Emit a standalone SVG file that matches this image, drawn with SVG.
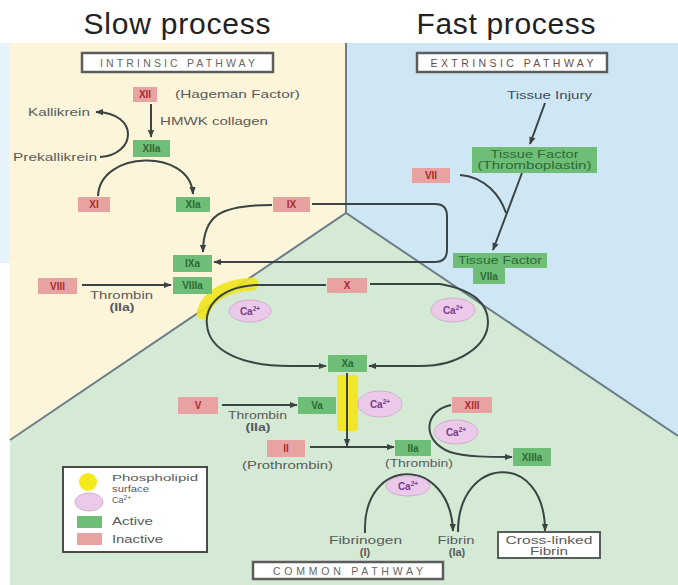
<svg xmlns="http://www.w3.org/2000/svg" width="678" height="585" viewBox="0 0 678 585">
<defs>
<marker id="ah" viewBox="0 0 10 10" refX="9" refY="5" markerWidth="8" markerHeight="8" markerUnits="userSpaceOnUse" orient="auto">
<path d="M0,1 L10,5 L0,9 z" fill="#3a4444"/>
</marker>
<style>
text{font-family:"Liberation Sans",Arial,sans-serif}
.title{font-size:30px;fill:#222;text-anchor:middle}
.pw{fill:#fff;stroke:#5c5c5c;stroke-width:2.5}
.pwt{font-size:10.5px;fill:#666;text-anchor:middle}
.red{fill:#e8a2a2}
.grn{fill:#6fbe77}
.rt{font-size:10px;font-weight:bold;fill:#a82c2c;text-anchor:middle}
.gt{font-size:10px;font-weight:bold;fill:#2c6a33;text-anchor:middle}
.lb{font-size:11px;fill:#5a5a5a}
.lg{font-size:9px;fill:#5a5a5a}
.mid{text-anchor:middle}
.bd{font-weight:bold}
.ca{fill:#ebc9e9;stroke:#d3acd3;stroke-width:1}
.cat{font-size:10px;font-weight:bold;fill:#7c3c8c;text-anchor:middle}
.sup{font-size:6.5px}
.c{fill:none;stroke:#3a4444;stroke-width:2}
.div{fill:none;stroke:#6c7c88;stroke-width:2}
</style>
</defs>

<g id="background">
<rect x="0" y="0" width="678" height="585" fill="#ffffff"/>
<rect x="0" y="43" width="10" height="220" fill="#e6f3fb"/>
<polygon points="10,43 346,43 346,213 10,440" fill="#fcf5da"/>
<polygon points="346,43 678,43 678,436 346,213" fill="#cfe7f5"/>
<polygon points="10,440 346,213 678,436 678,585 10,585" fill="#d4ead4"/>
<path class="div" d="M346,43 V213"/>
<path class="div" d="M10,440 L346,213 L678,436"/>
<path d="M203 313 C208 296 225 286 252 284" fill="none" stroke="#f1e41c" stroke-width="13" stroke-linecap="round" opacity="0.9"/>
<rect x="337" y="375" width="21" height="56" rx="4" fill="#f2e62a"/>
</g>

<g id="titles">
<text class="title" x="177" y="34" textLength="187">Slow process</text>
<text class="title" x="506" y="34" textLength="179">Fast process</text>
</g>

<g id="connectors">
<path class="c" d="M151 104 V137" marker-end="url(#ah)"/>
<path class="c" d="M100 157 C136 155 140 113 96 112" marker-end="url(#ah)"/>
<path class="c" d="M98 196 C100 150 190 148 193 194" marker-end="url(#ah)"/>
<path class="c" d="M272 205 C220 205 203 215 203 252" marker-end="url(#ah)"/>
<path class="c" d="M312 204 H435 Q447 204 447 216 V250 Q447 262 435 262 H214" marker-end="url(#ah)"/>
<path class="c" d="M545 103 L530 144" marker-end="url(#ah)"/>
<path class="c" d="M522 173 L493 250" marker-end="url(#ah)"/>
<path class="c" d="M460 175 C485 177 500 195 506 213"/>
<path class="c" d="M82 285 H171" marker-end="url(#ah)"/>
<path class="c" d="M326 285 H255 C215 288 205 310 207 325 C209 350 240 366 290 366 H326" marker-end="url(#ah)"/>
<path class="c" d="M370 284 H440 C475 290 488 305 488 322 C488 345 460 366 420 366 H369" marker-end="url(#ah)"/>
<path class="c" d="M347 373 V446" marker-end="url(#ah)"/>
<path class="c" d="M222 405 H297" marker-end="url(#ah)"/>
<path class="c" d="M310 447 H394" marker-end="url(#ah)"/>
<path class="c" d="M451 405 C425 410 420 440 450 452 C465 457 490 457 512 457" marker-end="url(#ah)"/>
<path class="c" d="M365 533 C362 455 450 455 453 531" marker-end="url(#ah)"/>
<path class="c" d="M458 532 C458 455 545 450 545 531" marker-end="url(#ah)"/>
</g>

<g id="intrinsic-pathway">
<rect class="pw" x="82" y="53" width="191" height="19"/>
<text class="pwt" x="177.5" y="66.5" textLength="155">INTRINSIC PATHWAY</text>
</g>
<g id="extrinsic-pathway">
<rect class="pw" x="417" y="53" width="190" height="19"/>
<text class="pwt" x="512" y="66.5" textLength="163" style="fill:#6a4c4c">EXTRINSIC PATHWAY</text>
</g>
<g id="common-pathway">
<rect class="pw" x="253" y="562" width="190" height="17"/>
<text class="pwt" x="348" y="574.5" textLength="150">COMMON PATHWAY</text>
</g>

<g id="n-XII"><rect class="red" x="133" y="87" width="24" height="15"/><text class="rt" x="145" y="98">XII</text></g>
<g id="lbl-hageman"><text class="lb" x="175" y="98" textLength="125" lengthAdjust="spacingAndGlyphs">(Hageman Factor)</text></g>
<g id="lbl-hmwk"><text class="lb" x="160" y="125" textLength="108" lengthAdjust="spacingAndGlyphs">HMWK collagen</text></g>
<g id="lbl-kallikrein"><text class="lb" x="28" y="116" textLength="62" lengthAdjust="spacingAndGlyphs">Kallikrein</text></g>
<g id="lbl-prekallikrein"><text class="lb" x="13" y="161" textLength="84" lengthAdjust="spacingAndGlyphs">Prekallikrein</text></g>
<g id="n-XIIa"><rect class="grn" x="133" y="140" width="37" height="17"/><text class="gt" x="151.5" y="152">XIIa</text></g>
<g id="n-XI"><rect class="red" x="78" y="197" width="32" height="15"/><text class="rt" x="94" y="208">XI</text></g>
<g id="n-XIa"><rect class="grn" x="176" y="197" width="34" height="15"/><text class="gt" x="193" y="208">XIa</text></g>
<g id="n-IX"><rect class="red" x="273" y="197" width="37" height="15"/><text class="rt" x="291.5" y="208">IX</text></g>
<g id="n-IXa"><rect class="grn" x="173" y="255" width="39" height="17"/><text class="gt" x="192.5" y="267">IXa</text></g>
<g id="n-VIIIa"><rect class="grn" x="173" y="277" width="39" height="17"/><text class="gt" x="192.5" y="289">VIIIa</text></g>
<g id="n-VIII"><rect class="red" x="38" y="278" width="39" height="16"/><text class="rt" x="57.5" y="290">VIII</text></g>
<g id="lbl-thrombin1"><text class="lb" x="90" y="299" textLength="63" lengthAdjust="spacingAndGlyphs">Thrombin</text><text class="lb mid bd" x="122" y="311" textLength="25" lengthAdjust="spacingAndGlyphs">(IIa)</text></g>

<g id="n-X"><rect class="red" x="327" y="278" width="40" height="15"/><text class="rt" x="347" y="289">X</text></g>
<g id="n-Xa"><rect class="grn" x="328" y="355" width="39" height="17"/><text class="gt" x="347.5" y="367">Xa</text></g>
<g id="n-V"><rect class="red" x="178" y="397" width="40" height="17"/><text class="rt" x="198" y="409">V</text></g>
<g id="n-Va"><rect class="grn" x="298" y="397" width="38" height="17"/><text class="gt" x="317" y="409">Va</text></g>
<g id="lbl-thrombin2"><text class="lb" x="228" y="419" textLength="59" lengthAdjust="spacingAndGlyphs">Thrombin</text><text class="lb mid bd" x="258" y="431" textLength="25" lengthAdjust="spacingAndGlyphs">(IIa)</text></g>
<g id="n-II"><rect class="red" x="267" y="440" width="38" height="17"/><text class="rt" x="286" y="452">II</text></g>
<g id="lbl-prothrombin"><text class="lb" x="242" y="469" textLength="91" lengthAdjust="spacingAndGlyphs">(Prothrombin)</text></g>
<g id="n-IIa"><rect class="grn" x="395" y="440" width="36" height="16"/><text class="gt" x="413" y="452">IIa</text></g>
<g id="lbl-thrombin3"><text class="lb" x="385" y="467" textLength="68" lengthAdjust="spacingAndGlyphs">(Thrombin)</text></g>
<g id="n-XIII"><rect class="red" x="452" y="397" width="40" height="16"/><text class="rt" x="472" y="409">XIII</text></g>
<g id="n-XIIIa"><rect class="grn" x="513" y="448" width="38" height="18"/><text class="gt" x="532" y="461">XIIIa</text></g>

<g id="ca1"><ellipse class="ca" cx="250" cy="311" rx="21" ry="11"/><text class="cat" x="250" y="315">Ca<tspan class="sup" dy="-4">2+</tspan></text></g>
<g id="ca2"><ellipse class="ca" cx="453" cy="310" rx="22" ry="12"/><text class="cat" x="453" y="314">Ca<tspan class="sup" dy="-4">2+</tspan></text></g>
<g id="ca3"><ellipse class="ca" cx="380" cy="404" rx="22" ry="13"/><text class="cat" x="380" y="408">Ca<tspan class="sup" dy="-4">2+</tspan></text></g>
<g id="ca4"><ellipse class="ca" cx="456" cy="432" rx="22" ry="12"/><text class="cat" x="456" y="436">Ca<tspan class="sup" dy="-4">2+</tspan></text></g>
<g id="ca5"><ellipse class="ca" cx="408" cy="486" rx="22" ry="10"/><text class="cat" x="408" y="490">Ca<tspan class="sup" dy="-4">2+</tspan></text></g>

<g id="lbl-fibrinogen"><text class="lb" x="329" y="544" textLength="73" lengthAdjust="spacingAndGlyphs">Fibrinogen</text><text class="lb mid bd" x="365" y="556">(I)</text></g>
<g id="lbl-fibrin"><text class="lb mid" x="456" y="544" textLength="37" lengthAdjust="spacingAndGlyphs">Fibrin</text><text class="lb mid bd" x="457" y="556">(Ia)</text></g>
<g id="n-crosslinked"><rect x="498" y="532" width="102" height="26" fill="#fff" stroke="#5c5c5c" stroke-width="2"/>
<text class="lb mid" x="549" y="544" textLength="87" lengthAdjust="spacingAndGlyphs">Cross-linked</text>
<text class="lb mid" x="549" y="555" textLength="38" lengthAdjust="spacingAndGlyphs">Fibrin</text></g>

<g id="lbl-tissue-injury"><text class="lb" x="507" y="99" textLength="85" lengthAdjust="spacingAndGlyphs" style="fill:#3e4c66">Tissue Injury</text></g>
<g id="n-TF"><rect class="grn" x="472" y="147" width="125" height="26"/>
<text class="gt" x="534.5" y="158" textLength="88" lengthAdjust="spacingAndGlyphs" style="font-weight:normal">Tissue Factor</text>
<text class="gt" x="534.5" y="169" textLength="114" lengthAdjust="spacingAndGlyphs" style="font-weight:normal">(Thromboplastin)</text></g>
<g id="n-VII"><rect class="red" x="412" y="168" width="38" height="15"/><text class="rt" x="431" y="179">VII</text></g>
<g id="n-TF2"><rect class="grn" x="453" y="253" width="94" height="15"/><text class="gt" x="500" y="264" textLength="84" lengthAdjust="spacingAndGlyphs" style="font-weight:normal">Tissue Factor</text></g>
<g id="n-VIIa"><rect class="grn" x="473" y="268" width="32" height="16"/><text class="gt" x="489" y="280">VIIa</text></g>

<g id="legend">
<rect x="63" y="467" width="144" height="85" fill="#fff" stroke="#4a4a4a" stroke-width="2"/>
<circle cx="88" cy="482" r="9" fill="#f4ea1c"/>
<ellipse class="ca" cx="89" cy="502" rx="14" ry="9"/>
<rect class="grn" x="77" y="516" width="25" height="12"/>
<rect class="red" x="77" y="533" width="25" height="12"/>
<text class="lg" x="112" y="481" textLength="86" lengthAdjust="spacingAndGlyphs">Phospholipid</text>
<text class="lg" x="112" y="491.5" textLength="37" lengthAdjust="spacingAndGlyphs">surface</text>
<text class="lg" x="112" y="503">Ca<tspan class="sup" dy="-3">2+</tspan></text>
<text class="lb" x="112" y="525" textLength="41" lengthAdjust="spacingAndGlyphs">Active</text>
<text class="lb" x="112" y="543" textLength="51" lengthAdjust="spacingAndGlyphs">Inactive</text>
</g>
</svg>
